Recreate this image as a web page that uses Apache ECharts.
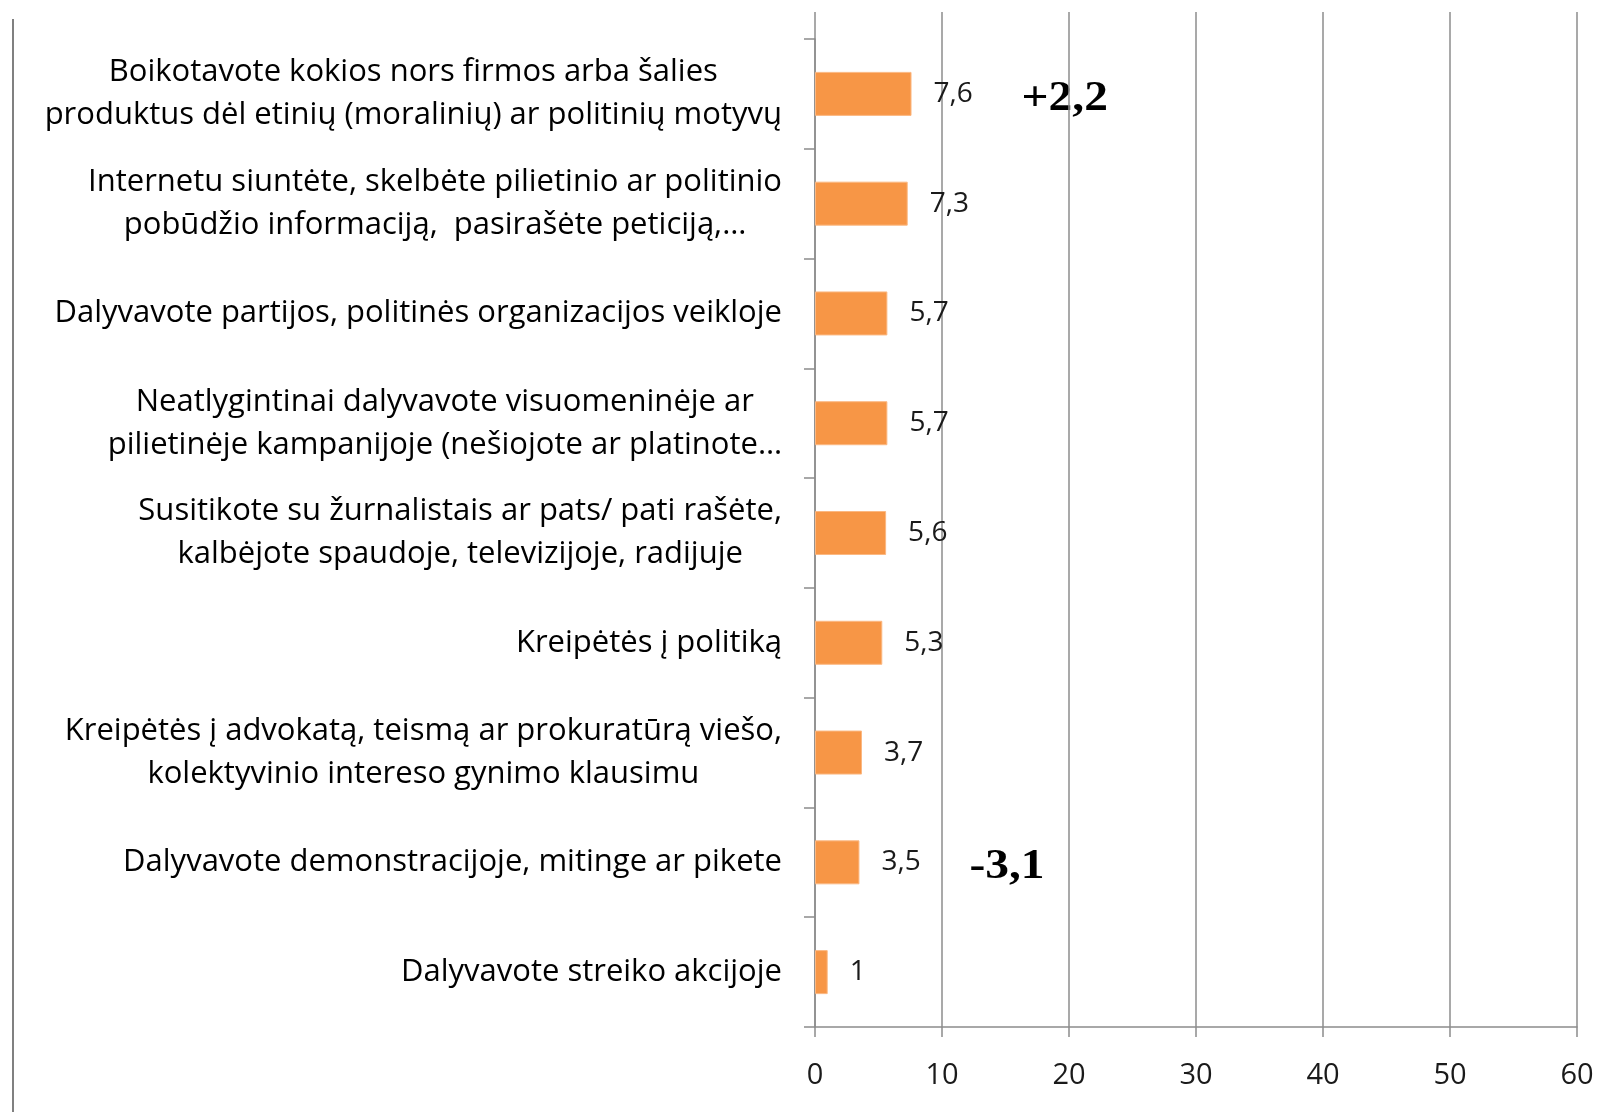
<!DOCTYPE html>
<html>
<head>
<meta charset="utf-8">
<script src="https://cdn.jsdelivr.net/npm/echarts@6/dist/echarts.min.js"></script>
<style>
  html, body { margin: 0; padding: 0; background: #fff; }
  #chart { width: 1619px; height: 1112px; }
</style>
</head>
<body>
<div id="chart"></div>
<script>
// kategorijos (eilučių lūžiai kaip originale)
var categories = [
    'Boikotavote kokios nors firmos arba šalies\nproduktus dėl etinių (moralinių) ar politinių motyvų',
    'Internetu siuntėte, skelbėte pilietinio ar politinio\npobūdžio informaciją,  pasirašėte peticiją,…',
    'Dalyvavote partijos, politinės organizacijos veikloje',
    'Neatlygintinai dalyvavote visuomeninėje ar\npilietinėje kampanijoje (nešiojote ar platinote…',
    'Susitikote su žurnalistais ar pats/ pati rašėte,\nkalbėjote spaudoje, televizijoje, radijuje',
    'Kreipėtės į politiką',
    'Kreipėtės į advokatą, teismą ar prokuratūrą viešo,\nkolektyvinio intereso gynimo klausimu',
    'Dalyvavote demonstracijoje, mitinge ar pikete',
    'Dalyvavote streiko akcijoje'
];
var values = [7.6, 7.3, 5.7, 5.7, 5.6, 5.3, 3.7, 3.5, 1];
// pokyčiai, užrašyti šalia stulpelių
var changes = ['+2,2', '', '', '', '', '', '', '-3,1', ''];
var xMin = 0, xMax = 60, xStep = 10;

var FONT = 'Open Sans';
var GRAY = '#8c8c8c';

var chart = echarts.init(document.getElementById('chart'));

function comma(v) {
    return String(v).replace('.', ',');
}

var option = {
    backgroundColor: '#ffffff',
    animation: false,
    textStyle: { fontFamily: FONT },
    grid: [
        { left: 815, right: 42, top: 12, bottom: 85 },
        { left: 815, right: 42, top: 39, bottom: 85 }
    ],
    xAxis: [
        {
            gridIndex: 0,
            type: 'value',
            min: xMin, max: xMax, interval: xStep,
            axisLine: { show: true, lineStyle: { color: GRAY, width: 1.5 } },
            axisTick: { show: true, length: 10, lineStyle: { color: GRAY, width: 1.5 } },
            axisLabel: { color: '#1a1a1a', fontSize: 29, fontFamily: FONT, margin: 34 },
            splitLine: { show: true, lineStyle: { color: GRAY, width: 1.5 } }
        },
        {
            gridIndex: 1,
            type: 'value',
            min: xMin, max: xMax, interval: xStep,
            show: false
        }
    ],
    yAxis: [
        {
            gridIndex: 0,
            type: 'value',
            show: false
        },
        {
            gridIndex: 1,
            type: 'category',
            inverse: true,
            data: categories,
            axisLine: { show: true, lineStyle: { color: GRAY, width: 1.5 } },
            axisTick: { show: true, length: 11, lineStyle: { color: GRAY, width: 1.5 } },
            axisLabel: {
                margin: 33,
                align: 'right',
                formatter: function (v) {
                    return v.split('\n').map(function (s) { return '{c|' + s + '}'; }).join('\n');
                },
                rich: {
                    c: { align: 'center', fontSize: 31, fontFamily: FONT, color: '#000', lineHeight: 43 }
                }
            }
        }
    ],
    series: [
        {
            type: 'bar',
            xAxisIndex: 1,
            yAxisIndex: 1,
            data: values,
            barWidth: 44,
            itemStyle: { color: '#F79646', borderColor: '#fbb882', borderWidth: 1 },
            label: {
                show: true,
                position: 'right',
                distance: 22,
                color: '#1a1a1a',
                fontSize: 28,
                fontFamily: FONT,
                formatter: function (p) { return comma(p.value); }
            }
        }
    ],
    graphic: [
        {
            type: 'line',
            shape: { x1: 13, y1: 19, x2: 13, y2: 1112 },
            style: { stroke: '#808080', lineWidth: 2 }
        }
    ]
};
chart.setOption(option);

// pokyčių užrašai šalia reikšmių
var notes = [];
changes.forEach(function (txt, i) {
    if (!txt) return;
    var p = chart.convertToPixel({ xAxisIndex: 1, yAxisIndex: 1 }, [values[i], i]);
    notes.push({
        type: 'text',
        x: p[0] + 110,
        y: p[1] + 5,
        scaleX: 1.13,
        style: {
            text: txt,
            font: 'bold 42px "Liberation Serif"',
            fill: '#000',
            verticalAlign: 'middle'
        }
    });
});
chart.setOption({ graphic: option.graphic.concat(notes) });
</script>
</body>
</html>
